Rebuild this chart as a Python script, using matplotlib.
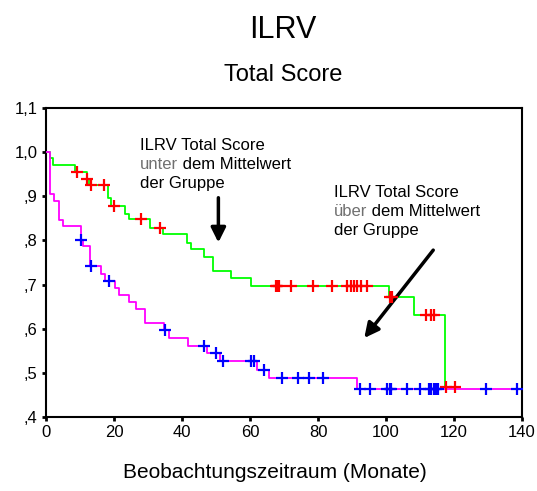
import matplotlib
matplotlib.use("Agg")
import matplotlib.pyplot as plt

plt.rcParams['font.family'] = ['Liberation Sans', 'DejaVu Sans']

# Group "unter dem Mittelwert" (green line, red censor marks)
green_times = [0, 1.2, 2.2, 8.5, 12.0, 12.5, 18.3, 19.1, 23.3, 24.5, 30.5, 34.3,
               41.5, 42.5, 46.4, 49.1, 54.5, 60.4, 100.8, 108.1, 117.3, 120.3]
green_surv = [1.0, 0.986, 0.970, 0.954, 0.940, 0.925, 0.895, 0.878, 0.861, 0.848,
              0.829, 0.814, 0.795, 0.780, 0.763, 0.731, 0.714, 0.697, 0.672, 0.631,
              0.469, 0.469]
green_cens_t = [9.2, 12.2, 13.2, 17.1, 20.0, 27.9, 33.4, 67.5, 68.0, 68.5, 72.2,
                78.5, 84.2, 88.6, 89.6, 90.6, 91.6, 92.6, 94.3, 101.2, 101.9,
                111.7, 113.2, 114.2, 117.6, 120.3]

# Group "über dem Mittelwert" (magenta line, blue censor marks)
mag_times = [0, 1.2, 2.4, 3.9, 5.1, 10.2, 10.8, 13.0, 16.1, 17.4, 20.3, 21.5,
             24.5, 26.4, 29.2, 34.8, 36.2, 41.8, 47.4, 51.1, 62.1, 65.5, 91.4, 138.4]
mag_surv = [1.0, 0.906, 0.890, 0.846, 0.832, 0.802, 0.787, 0.742, 0.723, 0.708,
            0.693, 0.676, 0.660, 0.645, 0.612, 0.597, 0.580, 0.561, 0.546, 0.527,
            0.506, 0.489, 0.463, 0.463]
mag_cens_t = [10.4, 13.2, 18.6, 35.1, 46.4, 50.1, 52.1, 60.3, 61.1, 64.1, 69.5,
              74.1, 77.3, 81.5, 92.4, 95.3, 100.4, 101.2, 101.6, 106.3, 110.0,
              112.7, 113.2, 114.0, 114.7, 115.3, 129.4, 138.4]

x_ticks = [0, 20, 40, 60, 80, 100, 120, 140]
y_ticks = [0.4, 0.5, 0.6, 0.7, 0.8, 0.9, 1.0, 1.1]
y_labels = [',4', ',5', ',6', ',7', ',8', ',9', '1,0', '1,1']


def level_at(times, surv, t):
    v = surv[0]
    for ti, si in zip(times, surv):
        if ti <= t:
            v = si
    return v


fig = plt.figure(figsize=(5.37, 4.91), dpi=100)
ax = fig.add_axes([46 / 537, 74 / 491, 476 / 537, 309 / 491])

ax.step(green_times, green_surv, where='post', color='#00ff00', lw=1.3, zorder=3)
ax.step(mag_times, mag_surv, where='post', color='#ff00ff', lw=1.3, zorder=3)

ax.plot(green_cens_t, [level_at(green_times, green_surv, t) for t in green_cens_t],
        ls='none', marker='+', ms=9, mew=1.6, color='#ff0000', zorder=4)
ax.plot(mag_cens_t, [level_at(mag_times, mag_surv, t) for t in mag_cens_t],
        ls='none', marker='+', ms=9, mew=1.6, color='#0000ff', zorder=4)

ax.set_xlim(0, 140)
ax.set_ylim(0.4, 1.1)
ax.set_xticks(x_ticks)
ax.set_xticklabels([str(v) for v in x_ticks])
ax.set_yticks(y_ticks)
ax.set_yticklabels(y_labels)
ax.tick_params(direction='out', length=3, width=2, labelsize=12, pad=3)
for sp in ax.spines.values():
    sp.set_linewidth(1.5)

fs = 12
# Annotation 1
ax.text(27.7, 1.004, 'ILRV Total Score', fontsize=fs, va='baseline')
t2 = ax.text(27.7, 0.9615, 'unter', fontsize=fs, color='#707070', va='baseline')
ax.annotate(' dem Mittelwert', xy=(1, 0), xycoords=t2, va='bottom', ha='left', fontsize=fs)
ax.text(27.7, 0.918, 'der Gruppe', fontsize=fs, va='baseline')

# Annotation 2
ax.text(84.6, 0.898, 'ILRV Total Score', fontsize=fs, va='baseline')
t5 = ax.text(84.6, 0.855, 'über', fontsize=fs, color='#707070', va='baseline')
ax.annotate(' dem Mittelwert', xy=(1, 0), xycoords=t5, va='bottom', ha='left', fontsize=fs)
ax.text(84.6, 0.812, 'der Gruppe', fontsize=fs, va='baseline')

# Arrows
ax.annotate('', xy=(50.7, 0.789), xytext=(50.7, 0.903),
            arrowprops=dict(arrowstyle='-|>', lw=2.5, color='black', mutation_scale=22))
ax.annotate('', xy=(93.1, 0.574), xytext=(114.4, 0.783),
            arrowprops=dict(arrowstyle='-|>', lw=2.5, color='black', mutation_scale=22))

fig.text(283 / 537, 1 - 30 / 491, 'ILRV', fontsize=22, ha='center', va='center')
fig.text(283 / 537, 1 - 75 / 491, 'Total Score', fontsize=17, ha='center', va='center')
fig.text(275 / 537, 1 - 472 / 491, 'Beobachtungszeitraum (Monate)', fontsize=15,
         ha='center', va='center')

fig.savefig('out.png', dpi=100)
